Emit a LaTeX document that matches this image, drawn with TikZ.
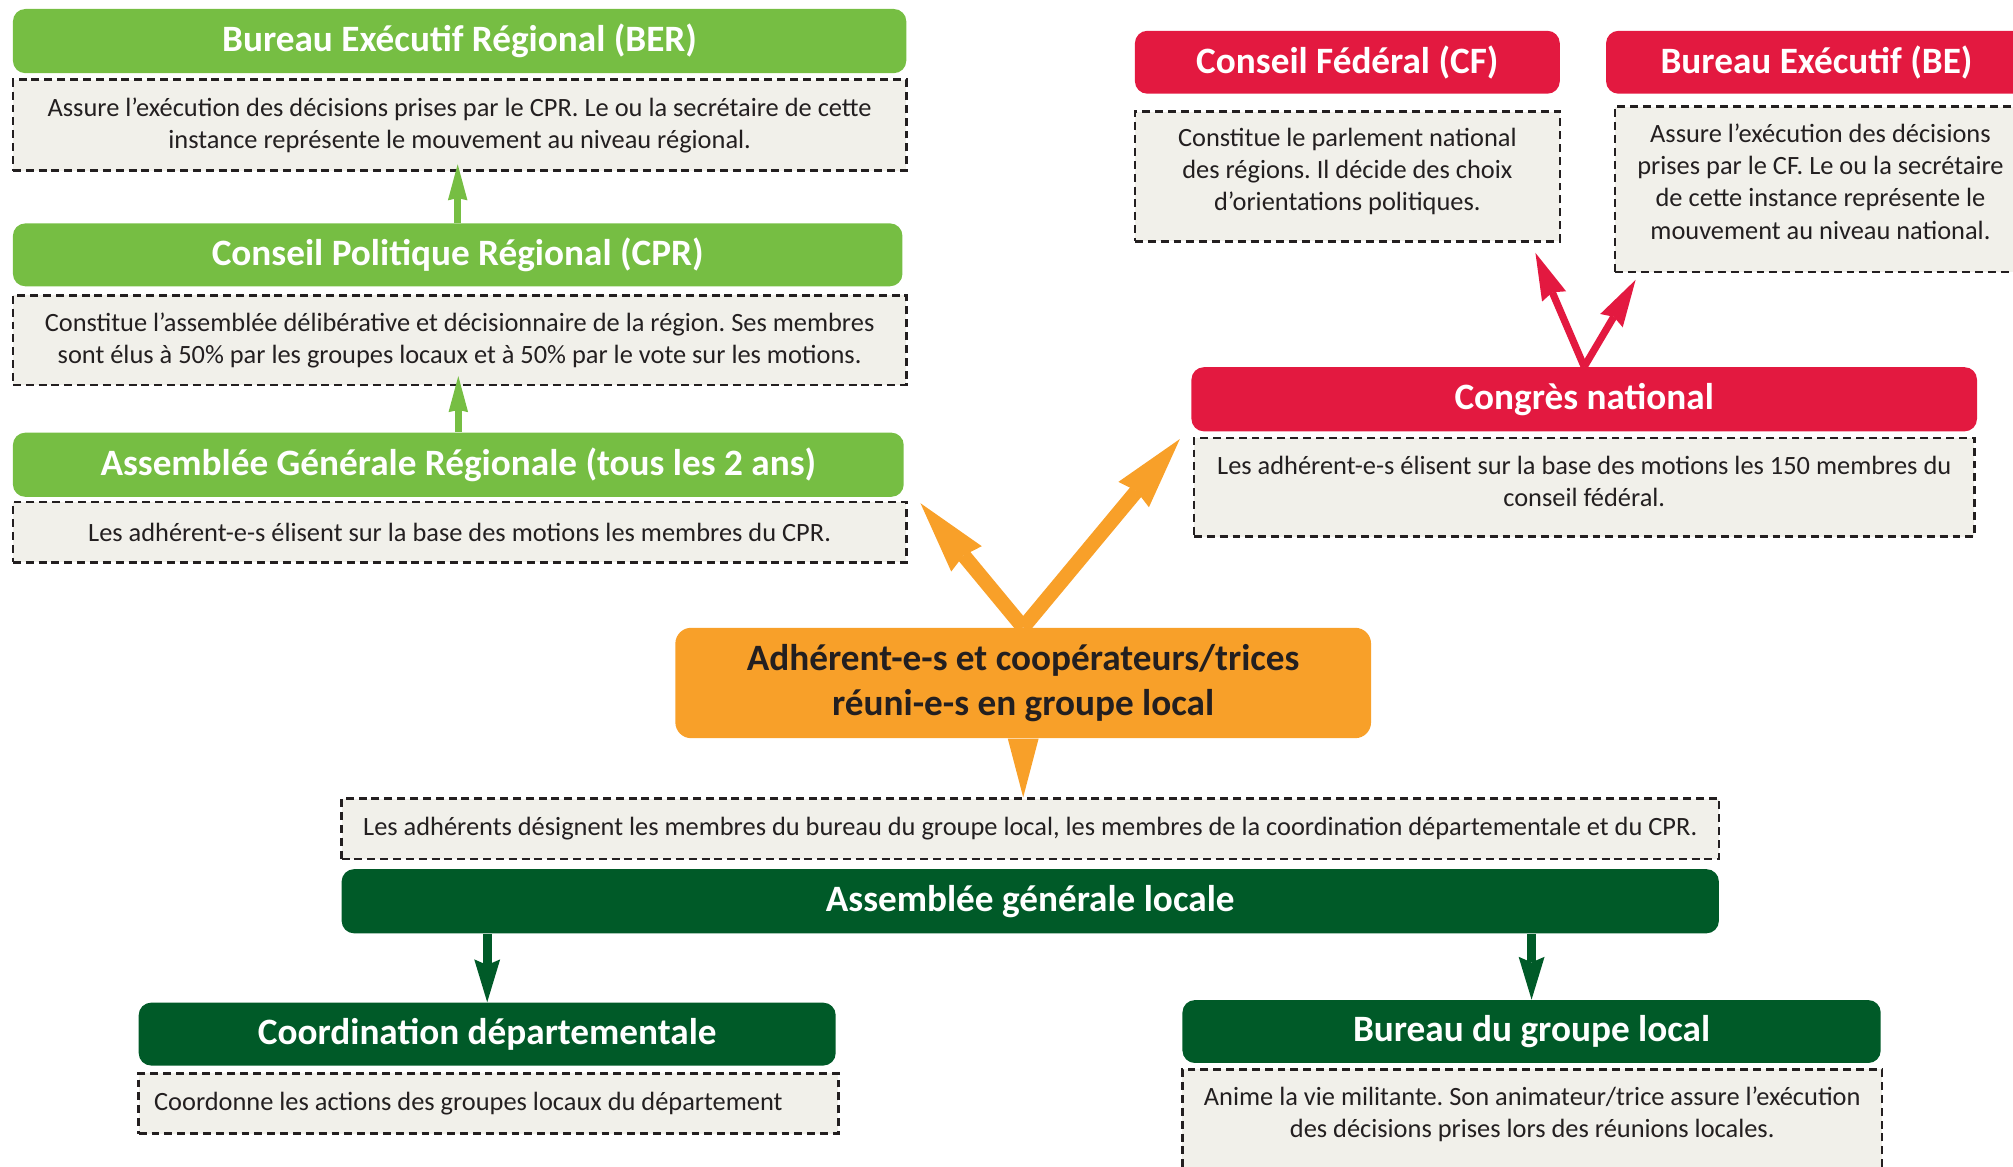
\documentclass[tikz,border=0pt]{standalone}
\usepackage{fontspec}
\setmainfont{Carlito}
\usepackage{tikz}
\usetikzlibrary{calc}
\usetikzlibrary{arrows.meta}
\frenchspacing
\definecolor{regiongreen}{RGB}{118,190,67}
\definecolor{nationred}{RGB}{227,25,64}
\definecolor{memberorange}{RGB}{248,160,41}
\definecolor{localgreen}{RGB}{0,90,40}
\definecolor{notegray}{RGB}{241,240,234}
\definecolor{inkgray}{RGB}{35,31,32}
\tikzset{
	headstyle/.style={rectangle,rounded corners=5.5pt,inner sep=0pt,text=white,font=\bfseries\fontsize{16.5}{19}\selectfont},
	greenstyle/.style={headstyle,fill=regiongreen},
	redstyle/.style={headstyle,fill=nationred},
	localstyle/.style={headstyle,fill=localgreen},
	memberstyle/.style={rectangle,rounded corners=7pt,inner sep=0pt,fill=memberorange,text=inkgray,align=center,font=\bfseries\fontsize{16.5}{19.8}\selectfont},
	notestyle/.style={rectangle,draw=inkgray,fill=notegray,line width=1.1pt,dash pattern=on 3.5pt off 2.2pt,inner sep=0pt,text=inkgray,align=center,font=\fontsize{11.7}{14.2}\selectfont},
	greenarrow/.style={draw=regiongreen,line width=3.2pt,-{Stealth[length=16pt,width=8.7pt,inset=1pt,line width=0pt]}},
	redarrow/.style={draw=nationred,line width=3.2pt,-{Stealth[length=21pt,width=11.6pt,inset=2pt,line width=0pt]}},
	orangearrow/.style={draw=memberorange,line width=6.5pt,-{Stealth[length=32pt,width=17.6pt,inset=2pt,line width=0pt]}},
	darkarrow/.style={draw=localgreen,line width=4.1pt,-{Stealth[length=19pt,width=11.5pt,inset=2.5pt,line width=0pt]}}
}
\begin{document}
\begin{tikzpicture}[x=0.02cm,y=-0.02cm]
	\useasboundingbox (0,0) rectangle (1568,909);
	\clip (0,0) rectangle (1568,909);
	% regional level
	\node[greenstyle,minimum width=13.92cm,minimum height=1cm] (ber) at (358,32) {Bureau Exécutif Régional (BER)};
	\node[notestyle,minimum width=13.92cm,minimum height=1.42cm] (berd) at (358,97.5) {Assure l’exécution des décisions prises par le CPR. Le ou la secrétaire de cette\\instance représente le mouvement au niveau régional.};
	\node[greenstyle,minimum width=13.86cm,minimum height=0.98cm] (cpr) at (356.5,198.5) {Conseil Politique Régional (CPR)};
	\node[notestyle,minimum width=13.92cm,minimum height=1.4cm] (cprd) at (358,265) {Constitue l’assemblée délibérative et décisionnaire de la région. Ses membres\\sont élus à 50\% par les groupes locaux et à 50\% par le vote sur les motions.};
	\node[greenstyle,minimum width=13.88cm,minimum height=1cm] (agr) at (357,362) {Assemblée Générale Régionale (tous les 2 ans)};
	\node[notestyle,minimum width=13.92cm,minimum height=0.94cm] (agrd) at (358,414.5) {Les adhérent-e-s élisent sur la base des motions les membres du CPR.};
	% national level
	\node[redstyle,minimum width=6.62cm,minimum height=0.98cm] (cf) at (1049.5,48.5) {Conseil Fédéral (CF)};
	\node[notestyle,minimum width=6.62cm,minimum height=2.02cm,text depth=0.22cm] (cfd) at (1049.5,137.5) {Constitue le parlement national\\des régions. Il décide des choix\\d’orientations politiques.};
	\node[redstyle,minimum width=6.56cm,minimum height=0.98cm] (be) at (1415,48.5) {Bureau Exécutif (BE)};
	\node[notestyle,minimum width=6.4cm,minimum height=2.58cm,text depth=0.24cm] (bed) at (1418,147.5) {Assure l’exécution des décisions\\prises par le CF. Le ou la secrétaire\\de cette instance représente le\\mouvement au niveau national.};
	\node[redstyle,minimum width=12.24cm,minimum height=1cm] (cn) at (1234,311) {Congrès national};
	\node[notestyle,minimum width=12.16cm,minimum height=1.54cm,text depth=0.18cm] (cnd) at (1234,379.5) {Les adhérent-e-s élisent sur la base des motions les 150 membres du\\conseil fédéral.};
	% members
	\node[memberstyle,minimum width=10.84cm,minimum height=1.72cm] (adh) at (797,532) {Adhérent-e-s et coopérateurs/trices\\réuni-e-s en groupe local};
	% local level
	\node[notestyle,minimum width=21.46cm,minimum height=0.94cm] (lgd) at (802.5,645.5) {Les adhérents désignent les membres du bureau du groupe local, les membres de la coordination départementale et du CPR.};
	\node[localstyle,minimum width=21.46cm,minimum height=1cm] (agl) at (802.5,702) {Assemblée générale locale};
	\node[localstyle,minimum width=10.86cm,minimum height=0.98cm] (cd) at (379.5,805.5) {Coordination départementale};
	\node[notestyle,minimum width=10.9cm,minimum height=0.94cm,align=flush left,text width=10.42cm] (cdd) at (380.5,859.5) {Coordonne les actions des groupes locaux du département};
	\node[localstyle,minimum width=10.88cm,minimum height=0.98cm] (bgl) at (1193,803.5) {Bureau du groupe local};
	\node[notestyle,minimum width=10.9cm,minimum height=1.64cm,text depth=0.31cm] (bgld) at (1193.5,874) {Anime la vie militante. Son animateur/trice assure l’exécution\\des décisions prises lors des réunions locales.};
	% free ends
	\coordinate (cftip) at (1196,197);
	\coordinate (betip) at (1274,218);
	\coordinate (agrtip) at (717,392);
	\coordinate (cntip) at (919,342);
	% connectors
	\draw[greenarrow] (cpr.north) -- ($(cpr.north |- berd.south)+(0,-6)$);
	\draw[greenarrow] (agr.north) -- ($(agr.north |- cprd.south)+(0,-8)$);
	\draw[redarrow] (cn.north) -- (cftip);
	\draw[redarrow] (cn.north) -- (betip);
	\draw[orangearrow] (adh.north) -- (agrtip);
	\draw[orangearrow] (adh.north) -- (cntip);
	\fill[memberorange] ($(adh.south)+(-12,0)$) -- ($(adh.south)+(12,0)$) -- (adh.south |- lgd.north) -- cycle;
	\draw[darkarrow] (cd.north |- agl.south) -- (cd.north);
	\draw[darkarrow] (bgl.north |- agl.south) -- (bgl.north);
\end{tikzpicture}
\end{document}
